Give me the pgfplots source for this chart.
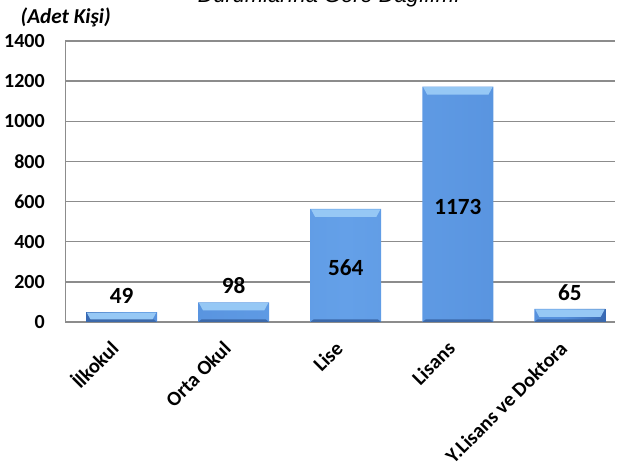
\documentclass[border=0pt]{standalone}
\usepackage{pgfplots}
\pgfplotsset{compat=1.18}
\usepackage{fontspec}
\setmainfont{Carlito}
\newfontfamily\titlefont{Liberation Sans}
\definecolor{barmain}{RGB}{84,143,220}
\definecolor{barlight}{RGB}{100,160,232}
\definecolor{bardark}{RGB}{55,105,180}
\definecolor{barcapc}{RGB}{150,200,245}
\definecolor{barbot}{RGB}{60,105,170}
\definecolor{gridc}{RGB}{140,140,140}
\pgfdeclarehorizontalshading{barshade}{100bp}{color(0bp)=(bardark); color(25bp)=(bardark); color(29bp)=(barmain); color(50bp)=(barlight); color(71bp)=(barmain); color(75bp)=(bardark); color(100bp)=(bardark)}
\pgfdeclareplotmark{barcap}{%
  \pgfpathmoveto{\pgfqpoint{-26pt}{-0.4pt}}%
  \pgfpathlineto{\pgfqpoint{26pt}{-0.4pt}}%
  \pgfpathlineto{\pgfqpoint{23pt}{-6pt}}%
  \pgfpathlineto{\pgfqpoint{-23pt}{-6pt}}%
  \pgfpathclose\pgfusepathqfill}
\pgfdeclareplotmark{barbase}{%
  \pgfpathmoveto{\pgfqpoint{-26.6pt}{0pt}}%
  \pgfpathlineto{\pgfqpoint{26.6pt}{0pt}}%
  \pgfpathlineto{\pgfqpoint{24pt}{2pt}}%
  \pgfpathlineto{\pgfqpoint{-24pt}{2pt}}%
  \pgfpathclose\pgfusepathqfill}
\begin{document}
\begin{tikzpicture}
\path[use as bounding box] (0,0) rectangle (464.25pt,354.75pt);
\node[anchor=base, font=\titlefont\itshape\fontsize{16.4}{18}\selectfont] at (246.75pt,352.5pt) {Durumlarına Göre Dağılımı};
\node[font=\bfseries\itshape\fontsize{15.9}{16}\selectfont] at (49.3pt,342pt) {(Adet Kişi)};
\begin{axis}[
  at={(49.1pt,113.25pt)}, anchor=south west,
  scale only axis, width=412pt, height=210.75pt,
  xmin=-0.5, xmax=4.4, ymin=0, ymax=1400,
  ytick={0,200,...,1400},
  xtick={0,1,2,3,4},
  xticklabels={İlkokul, Orta Okul, Lise, Lisans, Y.Lisans ve Doktora},
  ymajorgrids, grid style={gridc, line width=1.1pt},
  axis x line*=bottom, axis y line*=left,
  axis line style={gridc, line width=1.1pt},
  major tick length=0pt,
  /pgf/number format/assume math mode=true,
  /pgf/number format/1000 sep={},
  yticklabel style={font=\fontsize{15}{15}\selectfont\bfseries, xshift=-12pt},
  xticklabel style={yshift=-21pt, xshift=-1pt, rotate=45, anchor=base east, font=\fontsize{15.3}{15}\selectfont\bfseries, inner sep=0pt},
  clip=false,
]
\addplot[ybar, bar width=53.25pt, draw=none, shading=barshade]
  coordinates {(0,49) (1,98) (2,564) (3,1173) (4,65)};
\addplot[only marks, mark=barcap, mark options={draw=none, fill=barcapc}]
  coordinates {(0,49) (1,98) (2,564) (3,1173) (4,65)};
\addplot[only marks, mark=barbase, mark options={draw=none, fill=barbot}]
  coordinates {(0,0) (1,0) (2,0) (3,0) (4,0)};
\addplot[draw=none, mark=none, point meta=explicit symbolic, nodes near coords,
  every node near coord/.append style={anchor=south, inner sep=0pt, yshift=6pt, font=\fontsize{17.4}{18}\selectfont\bfseries}]
  coordinates {(0,49)[49] (1,98)[98] (4,65)[65]};
\addplot[draw=none, mark=none, point meta=explicit symbolic, nodes near coords,
  every node near coord/.append style={anchor=center, inner sep=0pt, yshift=-2pt, font=\fontsize{17.4}{18}\selectfont\bfseries}]
  coordinates {(2,282)[564] (3,586.5)[1173]};
\end{axis}
\end{tikzpicture}
\end{document}
